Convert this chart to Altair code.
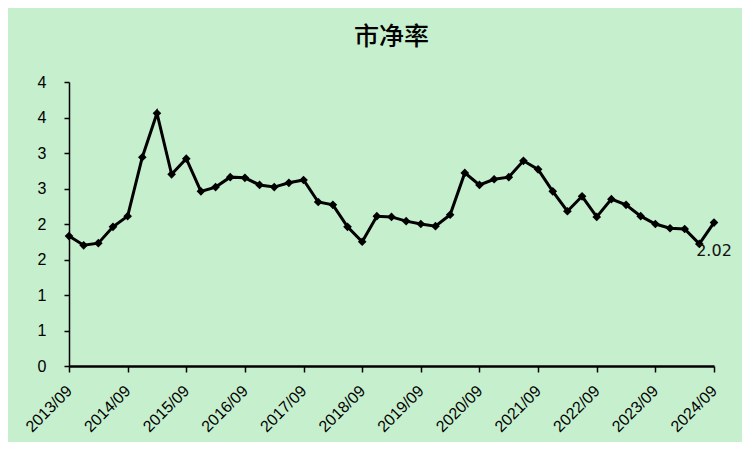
import altair as alt
import pandas as pd

title_text = "市净率"
years = list(range(2013, 2025))
months = ["03", "06", "09", "12"]
quarters = [f"{y}/{m}" for y in years for m in months]
quarters = quarters[quarters.index("2013/09"):quarters.index("2024/09") + 1]
pb_values = [1.83, 1.70, 1.73, 1.96, 2.11, 2.94, 3.56, 2.70, 2.92, 2.46,
             2.52, 2.66, 2.65, 2.55, 2.52, 2.58, 2.62, 2.31, 2.27, 1.96,
             1.75, 2.11, 2.10, 2.04, 2.00, 1.97, 2.13, 2.72, 2.55, 2.63,
             2.66, 2.89, 2.77, 2.46, 2.18, 2.39, 2.10, 2.35, 2.27, 2.11,
             2.00, 1.94, 1.93, 1.72, 2.02]
tick_labels = [q for q in quarters if q.endswith("/09")]
y_ticks = [0, 0.5, 1, 1.5, 2, 2.5, 3, 3.5, 4]
last_label = "2.02"

df = pd.DataFrame({"q": quarters, "v": pb_values})
last = df.tail(1).assign(lbl=last_label)

bg = "#C6EFCE"

x_enc = alt.X("q:O", sort=quarters,
              scale=alt.Scale(type="point", padding=0),
              axis=alt.Axis(values=tick_labels, title=None, labelAngle=-45,
                            labelAlign="right", labelBaseline="middle",
                            labelFont="Liberation Sans", labelFontSize=16,
                            labelColor="#000", labelPadding=16,
                            domainColor="#000", domainWidth=2.5,
                            tickColor="#000", tickWidth=1.5, tickSize=6,
                            grid=False))
y_enc = alt.Y("v:Q", scale=alt.Scale(domain=[0, 4], nice=False),
              axis=alt.Axis(values=y_ticks, tickCount=12,
                            labelExpr="toString(round(datum.value))",
                            title=None,
                            labelFont="Liberation Sans", labelFontSize=16,
                            labelColor="#000", labelPadding=18,
                            labelOverlap=False,
                            domainColor="#000", domainWidth=1.5,
                            tickColor="#000", tickWidth=1.5, tickSize=5,
                            grid=False))

line = alt.Chart(df).mark_line(color="#000", strokeWidth=3,
                               point=alt.OverlayMarkDef(shape="diamond", size=75,
                                                        color="#000", filled=True,
                                                        opacity=1)).encode(x=x_enc, y=y_enc)

label = alt.Chart(last).mark_text(font="DejaVu Sans", fontSize=16, color="#111",
                                  align="center", baseline="middle", dy=28,
                                  dx=0).encode(
    x=alt.X("q:O", sort=quarters), y="v:Q", text="lbl:N")

chart = (line + label).properties(
    width=645, height=284,
    background=bg,
    padding={"left": 61, "top": 74, "right": 28, "bottom": 76},
    autosize=alt.AutoSizeParams(type="none"),
    title=alt.TitleParams(title_text, font="Noto Sans CJK SC", fontSize=25,
                          fontWeight=500, color="#000", anchor="middle",
                          offset=24),
).configure_view(stroke=None, fill=bg)

chart.save("out.html", embed_options={"renderer": "svg", "actions": False})
